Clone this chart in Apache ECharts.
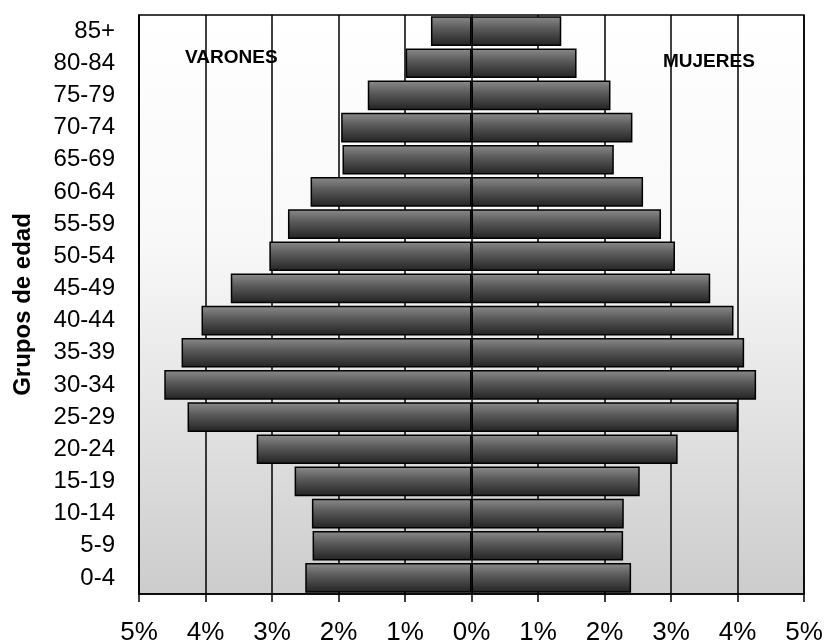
<!DOCTYPE html>
<html>
<head>
<meta charset="utf-8">
<script src="https://cdn.jsdelivr.net/npm/echarts@6/dist/echarts.min.js"></script>
<style>
  html, body { margin: 0; padding: 0; background: #fff; }
  #chart { width: 829px; height: 643px; }
</style>
</head>
<body>
<div id="chart"></div>
<script>
// grupos de edad, de abajo hacia arriba
const grupos = ['0-4', '5-9', '10-14', '15-19', '20-24', '25-29', '30-34', '35-39', '40-44',
    '45-49', '50-54', '55-59', '60-64', '65-69', '70-74', '75-79', '80-84', '85+']
// porcentajes
const varones = [2.50, 2.39, 2.40, 2.66, 3.23, 4.27, 4.62, 4.36, 4.06,
    3.62, 3.04, 2.76, 2.42, 1.94, 1.96, 1.56, 0.99, 0.61]
const mujeres = [2.40, 2.28, 2.29, 2.53, 3.10, 4.01, 4.28, 4.10, 3.94,
    3.59, 3.06, 2.85, 2.58, 2.14, 2.42, 2.09, 1.58, 1.35]

const myChart = echarts.init(document.getElementById('chart'))

const barColor = new echarts.graphic.LinearGradient(0, 0, 0, 1, [
    { offset: 0, color: '#8c8c8c' },
    { offset: 0.4, color: '#5c5c5c' },
    { offset: 1, color: '#222' }
])

const option = {
    backgroundColor: '#fff',
    animation: false,
    textStyle: { fontFamily: 'Liberation Sans, Arial, sans-serif' },
    grid: {
        left: 139, right: 25, top: 15, bottom: 49,
        containLabel: false,
        outerBoundsMode: 'none',
        show: true,
        borderColor: '#000',
        borderWidth: 1.5,
        backgroundColor: new echarts.graphic.LinearGradient(0, 0, 0, 1, [
            { offset: 0, color: '#ffffff' },
            { offset: 0.4, color: '#f8f8f8' },
            { offset: 1, color: '#cccccc' }
        ])
    },
    xAxis: {
        type: 'value',
        min: -5,
        max: 5,
        interval: 1,
        axisLine: { show: true, lineStyle: { color: '#000', width: 1.5 } },
        axisTick: { show: true, length: 8, lineStyle: { color: '#000', width: 1.5 } },
        axisLabel: {
            formatter: v => Math.abs(v) + '%',
            color: '#000',
            fontSize: 26,
            margin: 26,
            showMinLabel: true,
            showMaxLabel: true
        },
        splitLine: { show: true, lineStyle: { color: '#000', width: 1.5 } }
    },
    yAxis: {
        type: 'category',
        data: grupos,
        name: 'Grupos de edad',
        nameLocation: 'middle',
        nameRotate: 90,
        nameGap: 104,
        nameTextStyle: { color: '#000', fontSize: 24, fontWeight: 'bold' },
        axisLine: { show: true, onZero: false, lineStyle: { color: '#000', width: 1.5 } },
        axisTick: { show: false },
        axisLabel: { color: '#000', fontSize: 24, margin: 24, interval: 0, hideOverlap: false }
    },
    graphic: [
        { type: 'text', left: 185, top: 48, style: { text: 'VARONES', fontSize: 19, fontWeight: 'bold', fill: '#000', fontFamily: 'Liberation Sans, Arial' } },
        { type: 'text', left: 663, top: 52, style: { text: 'MUJERES', fontSize: 19, fontWeight: 'bold', fill: '#000', fontFamily: 'Liberation Sans, Arial' } }
    ],
    series: [
        {
            name: 'Varones',
            type: 'bar',
            stack: 'total',
            barCategoryGap: '8%',
            data: varones.map(v => -v),
            itemStyle: { color: barColor, borderColor: '#000', borderWidth: 1.5 }
        },
        {
            name: 'Mujeres',
            type: 'bar',
            stack: 'total',
            barCategoryGap: '8%',
            data: mujeres,
            itemStyle: { color: barColor, borderColor: '#000', borderWidth: 1.5 }
        }
    ]
}

myChart.setOption(option)
</script>
</body>
</html>
